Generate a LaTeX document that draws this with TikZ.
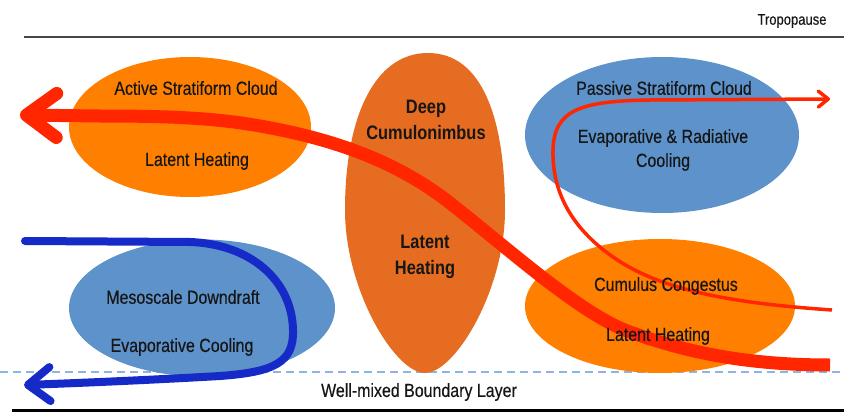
\documentclass[tikz,border=0pt]{standalone}
\usepackage{fontspec}
\setmainfont{Liberation Sans}[FakeStretch=0.84]
\newfontfamily\lblfont{Liberation Sans}[FakeStretch=0.84, FakeBold=0.35]
\usetikzlibrary{arrows.meta,shapes.geometric}
\definecolor{cloudorange}{RGB}{255,128,0}
\definecolor{cborange}{RGB}{229,108,32}
\definecolor{cloudblue}{RGB}{94,146,203}
\definecolor{flowred}{RGB}{255,38,0}
\definecolor{flowblue}{RGB}{22,42,200}
\definecolor{dashblue}{RGB}{142,180,227}
\definecolor{txt}{RGB}{22,22,22}
\tikzset{
  cloud/.style={ellipse, draw=none, inner sep=0pt},
  lbl/.style={text=txt, font=\lblfont\fontsize{19}{24}\selectfont, align=center, inner sep=0pt},
  blbl/.style={text=txt, font=\fontsize{19.5}{26}\selectfont\bfseries, align=center, inner sep=0pt},
  bigflow/.style={draw=flowred, line width=13pt, line cap=butt,
    -{Straight Barb[length=30pt,width=44pt,line cap=round,line join=round]}},
  thinflow/.style={draw=flowred, line width=3.5pt,
    -{Straight Barb[length=10pt,width=16pt,line cap=round,line join=round]}},
  blueflow/.style={draw=flowblue, line width=8pt, line cap=round,
    -{Straight Barb[length=22pt,width=34pt,line cap=round,line join=round]}}
}
\begin{document}
\begin{tikzpicture}[x=1pt,y=-1pt]
\useasboundingbox (0,0) rectangle (844,412);
% reference lines
\coordinate (tpL) at (24,37); \coordinate (tpR) at (844,37);
\draw[line width=2.8pt, black!72] (tpL) -- (tpR);
\coordinate (blL) at (0,372); \coordinate (blR) at (844,372);
\draw[dashblue, line width=1.5pt, dash pattern=on 8pt off 5pt] (blL) -- (blR);
\coordinate (grL) at (12,410); \coordinate (grR) at (844,410);
\draw[line width=3pt, black] (grL) -- (grR);
% clouds
\node[cloud, fill=cloudorange, minimum width=242pt, minimum height=140pt] (active) at (190,127) {};
\node[cloud, fill=cloudblue, minimum width=274pt, minimum height=156pt] (passive) at (662,135) {};
\node[cloud, fill=cloudorange, minimum width=270pt, minimum height=134pt] (congestus) at (660,306) {};
\node[cloud, fill=cloudblue, minimum width=266pt, minimum height=137pt] (meso) at (202,308) {};
\fill[cborange] (428,53) .. controls (374,53) and (345,118) .. (345,210)
  .. controls (345,290) and (395,373) .. (425,373)
  .. controls (455,373) and (505,290) .. (505,210)
  .. controls (505,118) and (482,53) .. (428,53) -- cycle;
% flows
\draw[bigflow] (830,365) .. controls (740,365) and (680,350) .. (630,332)
  .. controls (580,314) and (510,250) .. (450,203)
  .. controls (400,164) and (340,140) .. (260,126)
  .. controls (215,118) and (170,116) .. (100,116) -- (20,115);
\draw[thinflow] (832,310) .. controls (730,303) and (660,290) .. (613,257)
  .. controls (570,227) and (552,190) .. (553,150)
  .. controls (554,110) and (580,101) .. (650,100) -- (830,99);
\draw[blueflow] (25,241) -- (190,242) .. controls (250,244) and (292,280) .. (293,330)
  .. controls (294,362) and (275,372) .. (220,376)
  .. controls (150,380) and (80,383) .. (24,385);
% texts
\node[text=txt, font=\lblfont\fontsize{15.5}{18}\selectfont, inner sep=0pt] (tropo) at (792,21) {Tropopause};
\node[lbl] (bl) at (419,392) {Well-mixed Boundary Layer};
\node[lbl] (a1) at (196,88) {Active Stratiform Cloud};
\node[lbl] (a2) at (197,161) {Latent Heating};
\node[blbl] (cb1) at (426,120) {Deep\\Cumulonimbus};
\node[blbl] (cb2) at (425,257) {Latent\\Heating};
\node[lbl] (p1) at (664,88) {Passive Stratiform Cloud};
\node[lbl] (p2) at (663,150) {Evaporative \& Radiative\\Cooling};
\node[lbl] (c1) at (666,286) {Cumulus Congestus};
\node[lbl] (c2) at (658,336) {Latent Heating};
\node[lbl] (m1) at (183,297) {Mesoscale Downdraft};
\node[lbl] (m2) at (182,347) {Evaporative Cooling};
\end{tikzpicture}
\end{document}
